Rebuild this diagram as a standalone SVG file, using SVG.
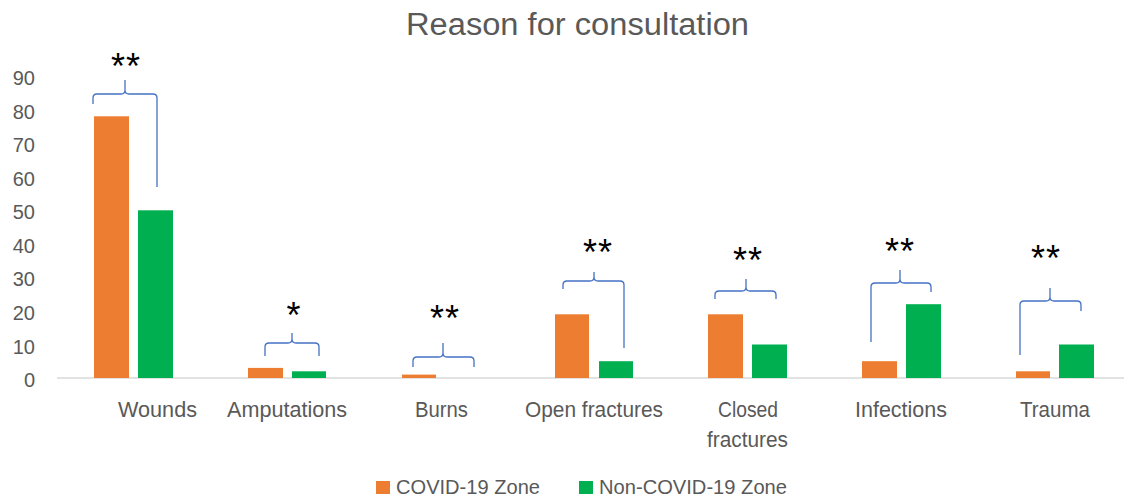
<svg xmlns="http://www.w3.org/2000/svg" width="1124" height="498" viewBox="0 0 1124 498">
<style>
.t{font-family:"Liberation Sans",Arial,sans-serif;fill:#595959}
.ax{font-size:20px;text-anchor:end}
.cat{font-size:22px}
.leg{font-size:21px}
.star{font-family:"Liberation Sans",Arial,sans-serif;font-size:36px;fill:#000;text-anchor:middle;letter-spacing:1px}
.o{fill:#ed7d31}
.g{fill:#00b050}
.br{fill:none;stroke:#4472c4;stroke-width:1.3}
</style>
<rect width="1124" height="498" fill="#fff"/>
<g id="title"><text class="t" x="406" y="35" font-size="31" textLength="343" lengthAdjust="spacingAndGlyphs">Reason for consultation</text></g>
<g id="axis">
<line x1="57" y1="378" x2="1124" y2="378" stroke="#d9d9d9" stroke-width="1.5"/>
<text class="t ax" x="35" y="387">0</text>
<text class="t ax" x="35" y="353.5">10</text>
<text class="t ax" x="35" y="319.9">20</text>
<text class="t ax" x="35" y="286.4">30</text>
<text class="t ax" x="35" y="252.8">40</text>
<text class="t ax" x="35" y="219.3">50</text>
<text class="t ax" x="35" y="185.7">60</text>
<text class="t ax" x="35" y="152.2">70</text>
<text class="t ax" x="35" y="118.6">80</text>
<text class="t ax" x="35" y="85">90</text>
</g>
<g id="bars">
<rect class="o" x="94" y="116.3" width="35" height="261.7"/>
<rect class="g" x="138" y="210.3" width="35" height="167.7"/>
<rect class="o" x="248" y="367.9" width="35" height="10.1"/>
<rect class="g" x="292" y="371.3" width="34" height="6.7"/>
<rect class="o" x="402" y="374.6" width="34" height="3.4"/>
<rect class="o" x="555" y="314.3" width="34" height="63.7"/>
<rect class="g" x="599" y="361.2" width="34" height="16.8"/>
<rect class="o" x="708" y="314.3" width="35" height="63.7"/>
<rect class="g" x="752" y="344.5" width="35" height="33.5"/>
<rect class="o" x="862" y="361.2" width="35" height="16.8"/>
<rect class="g" x="906" y="304.2" width="35" height="73.8"/>
<rect class="o" x="1016" y="371.3" width="34" height="6.7"/>
<rect class="g" x="1059" y="344.5" width="35" height="33.5"/>
</g>
<g id="connectors">
<path class="br" d="M93 104 L93 98 Q93 94 97 94 L121 94 Q125 94 125 90 L125 80 M125 90 Q125 94 129 94 L153 94 Q157 94 157 98 L157 187"/>
<path class="br" d="M265 356 L265 347 Q265 343 269 343 L288 343 Q292 343 292 339 L292 333 M292 339 Q292 343 296 343 L315 343 Q319 343 319 347 L319 356"/>
<path class="br" d="M413 367 L413 361 Q413 357 417 357 L439 357 Q443 357 443 353 L443 343 M443 353 Q443 357 447 357 L470 357 Q474 357 474 361 L474 367"/>
<path class="br" d="M563 289 L563 285 Q563 281 567 281 L590 281 Q594 281 594 277 L594 272 M594 277 Q594 281 598 281 L620 281 Q624 281 624 285 L624 348"/>
<path class="br" d="M715 299 L715 295 Q715 291 719 291 L742 291 Q746 291 746 287 L746 279 M746 287 Q746 291 750 291 L772 291 Q776 291 776 295 L776 299"/>
<path class="br" d="M871 342 L871 287 Q871 283 875 283 L896 283 Q900 283 900 279 L900 270 M900 279 Q900 283 904 283 L927 283 Q931 283 931 287 L931 292"/>
<path class="br" d="M1020 355 L1020 305 Q1020 301 1024 301 L1046 301 Q1050 301 1050 297 L1050 288 M1050 297 Q1050 301 1054 301 L1077 301 Q1081 301 1081 305 L1081 311"/>
</g>
<g id="stars">
<text class="star" x="126" y="79">**</text>
<text class="star" x="294" y="328">*</text>
<text class="star" x="445" y="331">**</text>
<text class="star" x="598" y="265">**</text>
<text class="star" x="748" y="273">**</text>
<text class="star" x="900" y="264">**</text>
<text class="star" x="1046" y="271">**</text>
</g>
<g id="categories">
<text class="t cat" x="118" y="417" textLength="79" lengthAdjust="spacingAndGlyphs">Wounds</text>
<text class="t cat" x="227" y="417" textLength="120" lengthAdjust="spacingAndGlyphs">Amputations</text>
<text class="t cat" x="415" y="417" textLength="53" lengthAdjust="spacingAndGlyphs">Burns</text>
<text class="t cat" x="525" y="417" textLength="138" lengthAdjust="spacingAndGlyphs">Open fractures</text>
<text class="t cat" x="718" y="417" textLength="60" lengthAdjust="spacingAndGlyphs">Closed</text>
<text class="t cat" x="707" y="447" textLength="81" lengthAdjust="spacingAndGlyphs">fractures</text>
<text class="t cat" x="855" y="417" textLength="92" lengthAdjust="spacingAndGlyphs">Infections</text>
<text class="t cat" x="1020" y="417" textLength="70" lengthAdjust="spacingAndGlyphs">Trauma</text>
</g>
<g id="legend">
<rect class="o" x="376" y="481" width="14" height="13"/>
<text class="t leg" x="396" y="494" textLength="144" lengthAdjust="spacingAndGlyphs">COVID-19 Zone</text>
<rect class="g" x="579" y="481" width="14" height="13"/>
<text class="t leg" x="599" y="494" textLength="188" lengthAdjust="spacingAndGlyphs">Non-COVID-19 Zone</text>
</g>
</svg>
